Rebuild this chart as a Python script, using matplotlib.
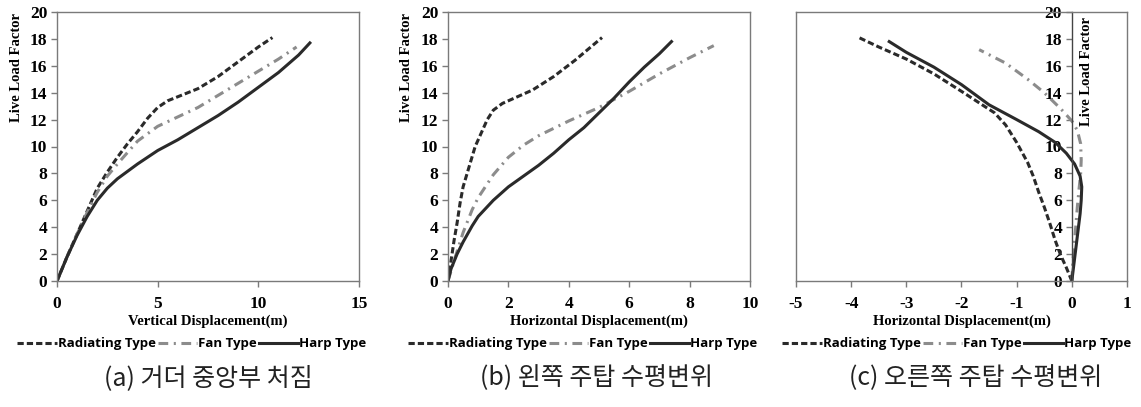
import numpy as np
import matplotlib
matplotlib.use("Agg")
import matplotlib.pyplot as plt

SERIF = "Liberation Serif"
plt.rcParams["lines.scale_dashes"] = False
plt.rcParams["axes.unicode_minus"] = False
plt.rcParams["font.family"] = SERIF
plt.rcParams["font.weight"] = "bold"

# (a) 거더 중앙부 처짐 : vertical displacement (m) vs live load factor
a_rad_x = [0, 0.5, 1.0, 1.5, 2.0, 2.5, 3.0, 3.5, 4.0, 4.5, 5.0, 5.5, 6.0, 7.0, 8.0, 9.0, 10.0, 10.7]
a_rad_y = [0, 1.8, 3.5, 5.2, 6.9, 8.1, 9.2, 10.2, 11.1, 12.1, 12.9, 13.4, 13.7, 14.3, 15.2, 16.3, 17.4, 18.1]
a_fan_x = [0, 0.5, 1.0, 1.5, 2.0, 2.5, 3.0, 4.0, 5.0, 6.0, 7.0, 8.0, 9.0, 10.0, 11.0, 11.9]
a_fan_y = [0, 1.8, 3.5, 5.1, 6.6, 7.8, 8.7, 10.4, 11.5, 12.2, 12.9, 13.8, 14.7, 15.6, 16.5, 17.4]
a_harp_x = [0, 0.5, 1.0, 1.5, 2.0, 2.5, 3.0, 4.0, 5.0, 6.0, 7.0, 8.0, 9.0, 10.0, 11.0, 12.0, 12.56]
a_harp_y = [0, 1.8, 3.4, 4.8, 6.0, 6.9, 7.6, 8.7, 9.7, 10.5, 11.4, 12.3, 13.3, 14.4, 15.5, 16.8, 17.7]

# (b) 왼쪽 주탑 수평변위
b_rad_x = [0, 0.1, 0.2, 0.3, 0.4, 0.5, 0.7, 0.9, 1.1, 1.3, 1.5, 1.8, 2.2, 2.8, 3.5, 4.2, 5.1]
b_rad_y = [0, 1.5, 3.0, 4.3, 5.8, 7.0, 8.5, 10.0, 11.0, 12.0, 12.7, 13.2, 13.6, 14.2, 15.2, 16.4, 18.1]
b_fan_x = [0, 0.2, 0.5, 0.8, 1.0, 1.5, 2.0, 2.5, 3.0, 4.0, 5.0, 6.0, 7.0, 8.0, 8.8]
b_fan_y = [0, 1.5, 3.6, 5.3, 6.2, 7.9, 9.2, 10.1, 10.8, 11.9, 12.9, 14.1, 15.4, 16.6, 17.5]
b_harp_x = [0, 0.1, 0.3, 0.5, 0.8, 1.0, 1.5, 2.0, 2.5, 3.0, 3.5, 4.0, 4.5, 5.0, 5.5, 6.0, 6.5, 7.0, 7.4]
b_harp_y = [0, 0.9, 2.0, 2.9, 4.1, 4.8, 6.0, 7.0, 7.8, 8.6, 9.5, 10.5, 11.4, 12.5, 13.6, 14.8, 15.9, 16.9, 17.8]

# (c) 오른쪽 주탑 수평변위
c_rad_x = [0, -0.1, -0.2, -0.3, -0.4, -0.5, -0.6, -0.7, -0.8, -1.0, -1.2, -1.4, -1.7, -2.0, -2.5, -3.0, -3.5, -3.86]
c_rad_y = [0, 1.0, 1.9, 3.0, 4.3, 5.5, 6.6, 7.8, 8.8, 10.3, 11.6, 12.5, 13.3, 14.1, 15.4, 16.5, 17.4, 18.1]
c_fan_x = [0, 0.02, 0.05, 0.08, 0.10, 0.13, 0.16, 0.17, 0.16, 0.10, 0.0, -0.2, -0.5, -0.8, -1.2, -1.68]
c_fan_y = [0, 1.5, 3.0, 4.5, 5.5, 6.8, 8.0, 9.0, 10.2, 11.2, 11.9, 12.8, 14.0, 15.0, 16.2, 17.2]
c_harp_x = [0, 0.03, 0.06, 0.09, 0.12, 0.15, 0.17, 0.18, 0.15, 0.05, -0.1, -0.3, -0.6, -1.0, -1.5, -2.0, -2.5, -3.0, -3.31]
c_harp_y = [0, 1.0, 2.0, 3.0, 4.0, 5.0, 6.0, 7.0, 7.8, 8.7, 9.5, 10.3, 11.1, 12.0, 13.1, 14.6, 15.9, 17.0, 17.8]

series_names = ["Radiating Type", "Fan Type", "Harp Type"]
captions = ["(a) 거더 중앙부 처짐", "(b) 왼쪽 주탑 수평변위", "(c) 오른쪽 주탑 수평변위"]
xlabels = ["Vertical Displacement(m)", "Horizontal Displacement(m)", "Horizontal Displacement(m)"]

frame_col = "#7a7a7a"

fig = plt.figure(figsize=(11.41, 4.07), dpi=100)
W, H = 1141, 407


def px_axes(left, right, top=12, bottom=281):
    return fig.add_axes([left / W, (H - bottom) / H, (right - left) / W, (bottom - top) / H])


ax_a = px_axes(57, 359)
ax_b = px_axes(448, 750)
ax_c = px_axes(796, 1127)

panels = [
    (ax_a, (a_rad_x, a_rad_y), (a_fan_x, a_fan_y), (a_harp_x, a_harp_y), (0, 15), [0, 5, 10, 15]),
    (ax_b, (b_rad_x, b_rad_y), (b_fan_x, b_fan_y), (b_harp_x, b_harp_y), (0, 10), [0, 2, 4, 6, 8, 10]),
    (ax_c, (c_rad_x, c_rad_y), (c_fan_x, c_fan_y), (c_harp_x, c_harp_y), (-5, 1), [-5, -4, -3, -2, -1, 0, 1]),
]
legend_cx = [192, 583, 957]
caption_cx = [208, 597, 976]

for i, (ax, rad, fan, harp, xlim, xt) in enumerate(panels):
    ax.plot(*rad, color="#2a2a2a", lw=2.2, dashes=(4.5, 2.2), label=series_names[0])
    ax.plot(*fan, color="#8c8c8c", lw=2.2, dashes=(7, 4, 1.5, 4), label=series_names[1])
    ax.plot(*harp, color="#2a2a2a", lw=2.2, label=series_names[2])

    ax.set_xlim(*xlim)
    ax.set_ylim(0, 20)
    ax.set_xticks(xt)
    ax.set_yticks(np.arange(0, 21, 2))
    for sp in ax.spines.values():
        sp.set_color(frame_col)
        sp.set_linewidth(1.0)
    ax.tick_params(direction="out", length=4, width=1, color=frame_col,
                   labelsize=12.5, pad=3)
    ax.tick_params(axis="x", pad=7)

    ax.set_xlabel(xlabels[i], fontweight="bold", fontsize=10.5)
    ax.xaxis.set_label_coords(0.5, -0.125)
    ax.set_ylabel("Live Load Factor", fontweight="bold", fontsize=10.5)

    ax.legend(loc="center", bbox_to_anchor=(legend_cx[i] / W, (H - 344) / H),
              bbox_transform=fig.transFigure, ncol=3, frameon=False,
              handlelength=3.0, handletextpad=0.1, columnspacing=0.1,
              prop={"family": "Open Sans", "weight": "bold", "size": 9.5})

    fig.text(caption_cx[i] / W, (H - 378) / H, captions[i],
             ha="center", va="center", fontsize=18, fontweight="light", color="#222222",
             family=["Noto Sans CJK KR", "DejaVu Sans"])

ax_a.yaxis.set_label_coords(-0.113, 0.795)
ax_b.yaxis.set_label_coords(-0.116, 0.795)

# right-hand tower: y axis sits at x = 0, keep a plain frame edge at x = -5
ax_c.spines["left"].set_position(("data", 0))
ax_c.spines["left"].set_color("#444444")
ax_c.plot([0, 0], [0, 1], transform=ax_c.transAxes, color=frame_col, lw=1.0, clip_on=False)
ax_c.yaxis.set_label_coords(0.897, 0.78)

fig.savefig("out.png", dpi=100)
